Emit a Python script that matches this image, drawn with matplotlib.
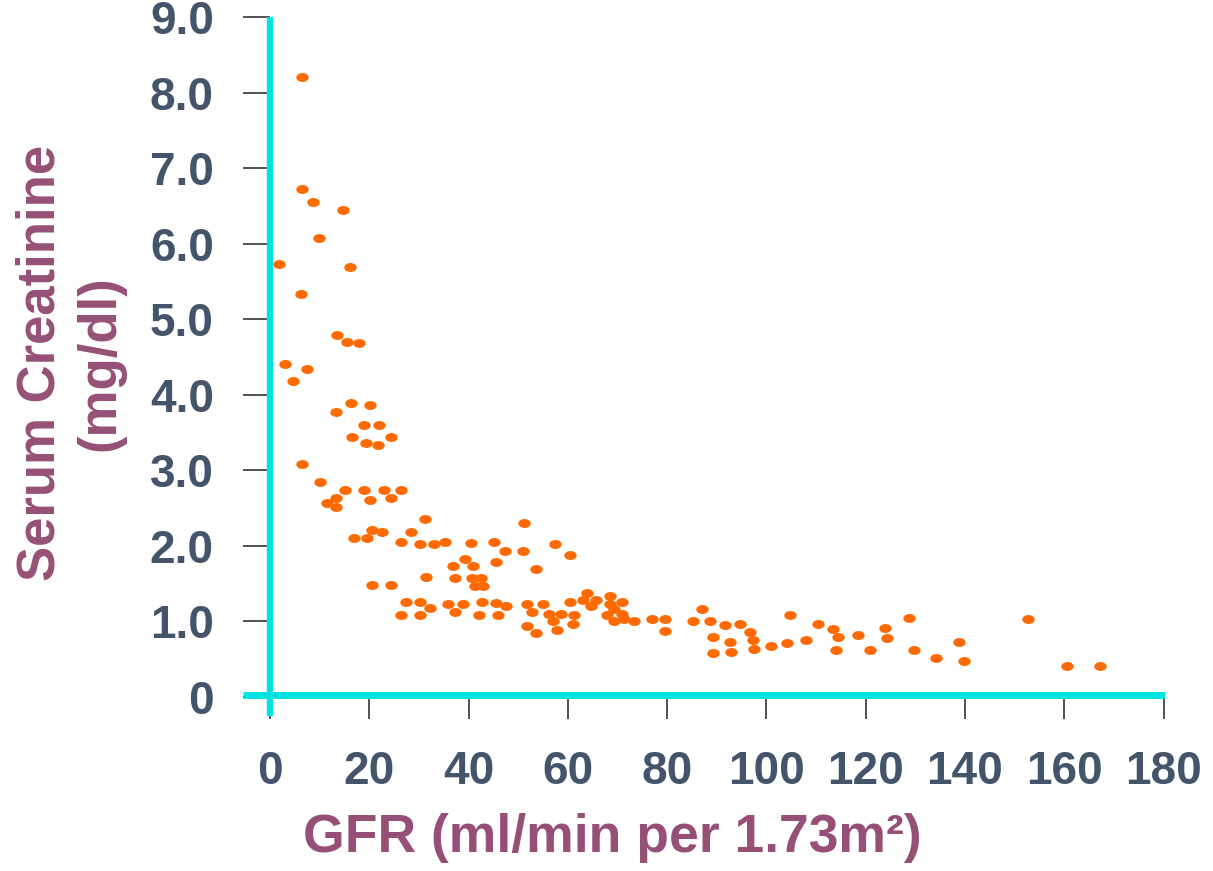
import matplotlib
matplotlib.use("Agg")
import matplotlib.pyplot as plt
from matplotlib.path import Path
from matplotlib.transforms import Affine2D

# GFR (ml/min per 1.73m2) vs serum creatinine (mg/dl)
gfr = [6.4, 6.4, 8.6, 14.7, 9.9, 1.9, 16.1, 6.25, 13.4, 15.5, 17.9, 3.0, 7.4, 4.7,
       13.2, 16.3, 20.1, 18.9, 22.0, 16.6, 19.4, 21.7, 24.4, 6.4, 10.0, 15.2, 19.0,
       23.0, 26.4, 13.2, 11.4, 13.2, 20.2, 24.4, 31.3, 20.6, 22.6, 16.9, 19.5, 28.4,
       26.4, 30.3, 33.1, 35.2, 36.9, 37.2, 31.5, 20.6, 24.4, 27.3, 30.3, 32.3, 26.4,
       30.3, 35.9, 37.2, 51.1, 40.5, 45.2, 47.3, 50.9, 57.5, 60.5, 39.3, 40.8, 45.6,
       53.6, 40.7, 42.5, 41.2, 42.9, 38.8, 42.8, 45.6, 47.5, 42.1, 46.0, 51.7, 54.9,
       52.7, 56.2, 58.7, 60.5, 61.2, 57.1, 51.7, 53.6, 57.9, 61.1, 63.8, 63.0, 65.7,
       64.7, 68.4, 71.0, 68.4, 69.2, 67.9, 71.0, 69.2, 71.4, 73.3, 76.9, 79.6, 79.6,
       85.2, 87.0, 88.6, 91.6, 94.7, 96.6, 89.2, 92.7, 97.2, 89.2, 92.9, 97.6, 100.9,
       104.1, 107.9, 104.7, 110.3, 113.5, 114.4, 114.0, 118.5, 120.8, 123.8, 124.3,
       128.7, 129.8, 134.1, 138.8, 139.8, 152.8, 160.5, 167.2]
creat = [8.21, 6.72, 6.55, 6.45, 6.08, 5.73, 5.69, 5.33, 4.79, 4.70, 4.69, 4.41, 4.34,
         4.18, 3.77, 3.89, 3.87, 3.60, 3.60, 3.44, 3.36, 3.34, 3.44, 3.09, 2.84, 2.74,
         2.74, 2.74, 2.74, 2.64, 2.57, 2.52, 2.61, 2.64, 2.35, 2.21, 2.19, 2.11, 2.11,
         2.19, 2.05, 2.03, 2.03, 2.05, 1.74, 1.58, 1.59, 1.48, 1.48, 1.26, 1.26, 1.18,
         1.08, 1.09, 1.23, 1.13, 2.30, 2.04, 2.05, 1.93, 1.93, 2.03, 1.88, 1.83, 1.73,
         1.78, 1.70, 1.58, 1.58, 1.47, 1.47, 1.23, 1.26, 1.24, 1.20, 1.08, 1.09, 1.23,
         1.23, 1.13, 1.10, 1.10, 1.26, 1.09, 1.00, 0.94, 0.85, 0.88, 0.96, 1.38, 1.28,
         1.28, 1.21, 1.33, 1.26, 1.23, 1.17, 1.08, 1.10, 1.00, 1.03, 1.01, 1.03, 1.03,
         0.87, 1.01, 1.17, 1.01, 0.95, 0.97, 0.86, 0.80, 0.73, 0.75, 0.58, 0.60, 0.63,
         0.68, 0.72, 0.75, 1.08, 0.96, 0.90, 0.80, 0.62, 0.82, 0.62, 0.91, 0.78, 1.04,
         0.62, 0.52, 0.73, 0.47, 1.03, 0.41, 0.41]

xticks = [0, 20, 40, 60, 80, 100, 120, 140, 160, 180]
yticks = [0, 1, 2, 3, 4, 5, 6, 7, 8, 9]
ytick_labels = ["0", "1.0", "2.0", "3.0", "4.0", "5.0", "6.0", "7.0", "8.0", "9.0"]

plt.rcParams['font.family'] = ['Liberation Sans', 'DejaVu Sans']

label_col = "#44546A"
title_col = "#965078"
cyan = "#00E3E0"

fig = plt.figure(figsize=(12.13, 8.71), dpi=100)
ax = fig.add_axes([0.2226, 0.1998, 0.7366, 0.7807])

# slightly flattened dots
ell = Path.unit_circle().transformed(Affine2D().scale(1.0, 0.72))
ax.scatter(gfr, creat, s=80, marker=ell, color="#FF6A00", linewidths=0, zorder=3, clip_on=False)

ax.set_xlim(0, 180)
ax.set_ylim(0, 9)
for s in ax.spines.values():
    s.set_visible(False)

# thick cyan axis lines running a bit past the origin
ax.plot([0, 0], [-0.255, 9.0], color=cyan, lw=4.6, solid_capstyle="butt", clip_on=False, zorder=4)
ax.plot([-5.4, 180.2], [0.03, 0.03], color=cyan, lw=5.0, solid_capstyle="butt", clip_on=False, zorder=4)

ax.set_xticks(xticks)
ax.set_xticklabels([str(v) for v in xticks])
ax.set_yticks(yticks)
ax.set_yticklabels(ytick_labels)
ax.tick_params(axis="x", direction="out", length=16, width=1.1, color="#222222", pad=22,
               labelsize=33, labelcolor=label_col)
ax.tick_params(axis="y", direction="out", length=19.5, width=1.1, color="#222222", pad=21,
               labelsize=33, labelcolor=label_col)
for t in ax.get_xticklabels() + ax.get_yticklabels():
    t.set_fontweight("bold")

fig.text(70 / 1213, 1 - 363 / 871, "Serum Creatinine\n(mg/dl)", rotation=90, ha="center",
         va="center", ma="center", fontsize=38, fontweight="bold", color=title_col, linespacing=1.25)
fig.text(612 / 1213, 1 - 852 / 871, "GFR (ml/min per 1.73m²)", ha="center", va="baseline",
         fontsize=38.5, fontweight="bold", color=title_col)

fig.savefig("out.png", dpi=100)
